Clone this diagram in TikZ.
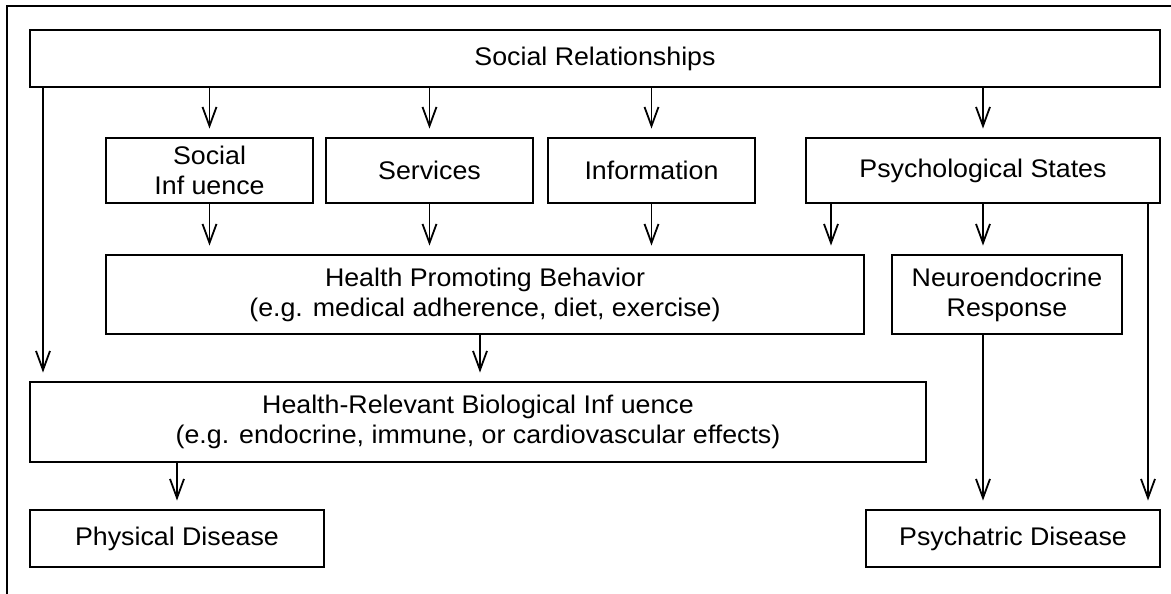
\documentclass[tikz,border=0pt]{standalone}
\usepackage{fontspec}
\setmainfont{Liberation Sans}[FakeStretch=1.05]
\usetikzlibrary{arrows.meta}
\begin{document}
\begin{tikzpicture}[x=1pt,y=-1pt,
  box/.style={draw, line width=1.9pt, inner sep=0pt, align=center,
    font=\fontsize{25.5}{30}\selectfont},
  arr/.style={line width=1.8pt, -{Straight Barb[length=19pt,width=14pt]}, shorten >=8.5pt}]
\useasboundingbox (0,0) rectangle (1171,594);
\draw[line width=1.9pt] (7,594) -- (7,6) -- (1171,6);

\node[box, minimum width=1130pt, minimum height=57pt] (SR) at (595,58.5) {Social Relationships};
\node[box, minimum width=207pt, minimum height=65pt] (SI) at (209.5,170.5) {Social\\Inf uence};
\node[box, minimum width=207pt, minimum height=65pt] (SV) at (429.5,170.5) {Services};
\node[box, minimum width=207pt, minimum height=65pt] (IN) at (651.5,170.5) {Information};
\node[box, minimum width=354pt, minimum height=65pt] (PS) at (983,170.5) {Psychological States};
\node[box, minimum width=758pt, minimum height=79pt] (HPB) at (485,294.5) {Health Promoting Behavior\\(e.g. medical adherence, diet, exercise)};
\node[box, minimum width=230pt, minimum height=79pt] (NR) at (1007,294.5) {Neuroendocrine\\Response};
\node[box, minimum width=896pt, minimum height=80pt] (HRBI) at (478,422) {Health-Relevant Biological Inf uence\\(e.g. endocrine, immune, or cardiovascular effects)};
\node[box, minimum width=294pt, minimum height=57pt] (PD) at (177,538.5) {Physical Disease};
\node[box, minimum width=294pt, minimum height=57pt] (PsD) at (1013,538.5) {Psychatric Disease};

\coordinate (L) at (43,0);
\coordinate (P1) at (831,0);
\coordinate (P2) at (1148,0);
\coordinate (H1) at (480,0);

\draw[arr] (SR.south -| SI.north) -- (SI.north);
\draw[arr] (SR.south -| SV.north) -- (SV.north);
\draw[arr] (SR.south -| IN.north) -- (IN.north);
\draw[arr] (SR.south -| PS.north) -- (PS.north);
\draw[arr] (SR.south -| L) -- (HRBI.north -| L);

\draw[arr] (SI.south) -- (HPB.north -| SI.south);
\draw[arr] (SV.south) -- (HPB.north -| SV.south);
\draw[arr] (IN.south) -- (HPB.north -| IN.south);
\draw[arr] (PS.south -| P1) -- (HPB.north -| P1);
\draw[arr] (PS.south) -- (NR.north -| PS.south);
\draw[arr] (PS.south -| P2) -- (PsD.north -| P2);

\draw[arr] (NR.south -| PS.south) -- (PsD.north -| PS.south);
\draw[arr] (HPB.south -| H1) -- (HRBI.north -| H1);
\draw[arr] (HRBI.south -| PD.north) -- (PD.north);
\end{tikzpicture}
\end{document}
